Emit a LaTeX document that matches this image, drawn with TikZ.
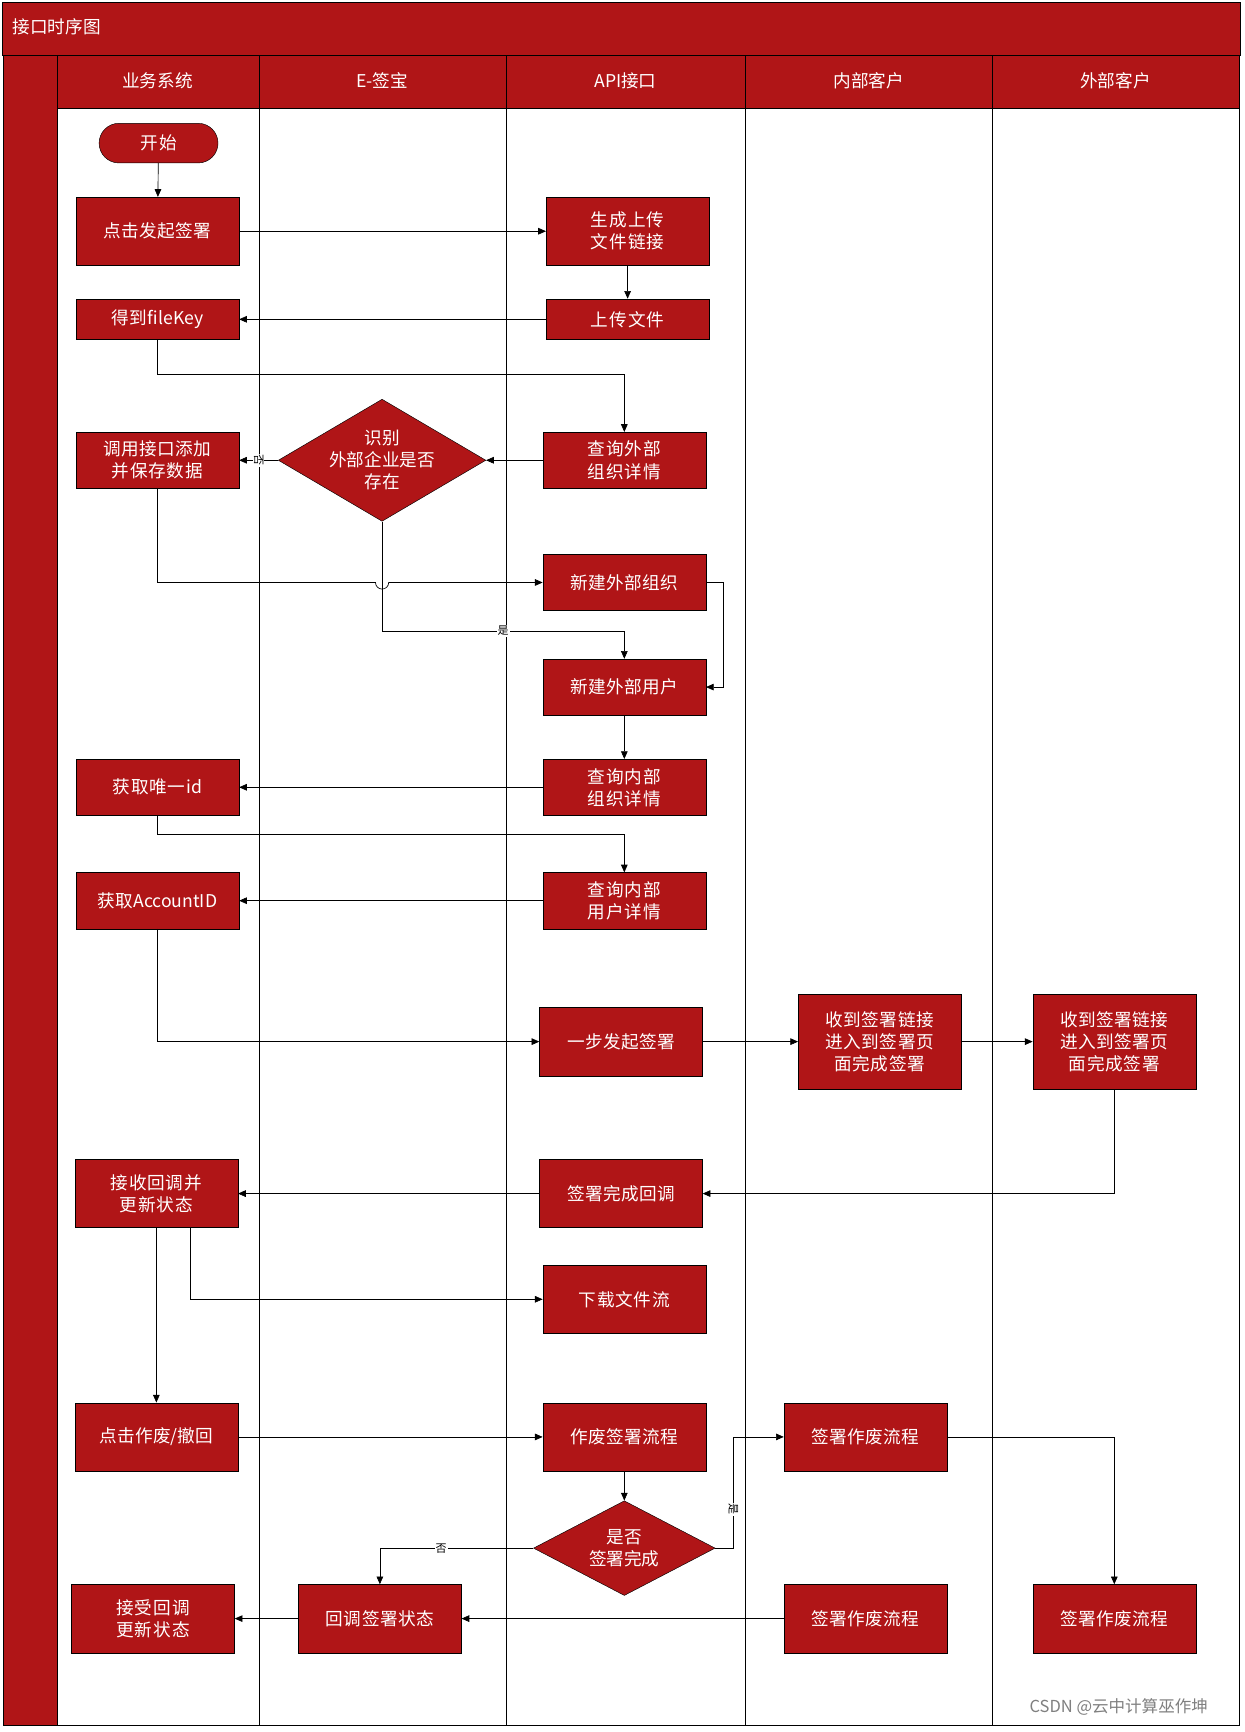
\documentclass[tikz,border=0pt]{standalone}
\usepackage{fontspec}
\newfontfamily\cjk{Noto Sans CJK SC}
\XeTeXlinebreaklocale "zh"
\XeTeXlinebreakskip=0pt plus 1pt
\usetikzlibrary{shapes.geometric,arrows.meta}
\definecolor{rd}{HTML}{B01517}
\tikzset{
 box/.style={draw=black,fill=rd,text=white,minimum width=148pt,minimum height=62pt,inner sep=1pt,align=center,text width=124pt,font=\cjk\fontsize{16}{20}\selectfont},
 dia/.style={draw=black,fill=rd,text=white,diamond,aspect=1.7,inner sep=0pt,minimum width=165pt,minimum height=96pt,align=center,font=\cjk\fontsize{16}{20}\selectfont},
 arr/.style={-{Triangle[length=7pt,width=6pt]},black,line width=0.6pt},
 lbl/.style={fill=white,inner sep=1pt,font=\cjk\fontsize{10}{11}\selectfont},
 hdr/.style={text=white,font=\cjk\fontsize{16}{19}\selectfont}
}
\begin{document}
\begin{tikzpicture}[x=1pt,y=-1pt]
\useasboundingbox (0,0) rectangle (1130,1573);
\fill[white] (0,0) rectangle (1130,1573);
% frame
\fill[rd,draw=black] (2,2) rectangle (1126,50);
\node[hdr,anchor=west] (title) at (8,24) {接口时序图};
\fill[rd,draw=black] (3,50) rectangle (52,1567);
\fill[rd,draw=black] (52,50) rectangle (1125,98);
\draw[black] (52,98) rectangle (1125,1567);
\foreach \x in {235,460,677,901} \draw (\x,50) -- (\x,1567);
\node[hdr] (h1) at (143,73) {业务系统};
\node[hdr] (h2) at (347,73) {E-签宝};
\node[hdr] (h3) at (568,73) {API接口};
\node[hdr] (h4) at (789,73) {内部客户};
\node[hdr] (h5) at (1013,73) {外部客户};
% nodes
\node[box,rounded corners=18pt,minimum width=108pt,minimum height=36pt,text width=90pt] (st) at (144,130) {开始};
\node[box] (n1) at (143,210) {点击发起签署};
\node[box] (n2) at (570,210) {生成上传文件链接};
\node[box,minimum height=37pt] (n3) at (570,290) {上传文件};
\node[box,minimum height=37pt] (n4) at (143,290) {得到fileKey};
\node[box,minimum height=51pt] (n5) at (143,418) {调用接口添加并保存数据};
\node[dia] (d1) at (347,418) {识别\\外部企业是否\\存在};
\node[box,minimum height=51pt] (n6) at (567,418) {查询外部组织详情};
\node[box,minimum height=51pt] (n7) at (567,529) {新建外部组织};
\node[box,minimum height=51pt] (n8) at (567,624) {新建外部用户};
\node[box,minimum height=51pt] (n9) at (567,715) {查询内部组织详情};
\node[box,minimum height=51pt] (n10) at (143,715) {获取唯一id};
\node[box,minimum height=51pt] (n11) at (567,818) {查询内部用户详情};
\node[box,minimum height=51pt] (n12) at (143,818) {获取AccountID};
\node[box] (n13) at (564,946) {一步发起签署};
\node[box,minimum height=86pt] (n14) at (799,946) {收到签署链接进入到签署页面完成签署};
\node[box,minimum height=86pt] (n15) at (1012,946) {收到签署链接进入到签署页面完成签署};
\node[box] (n16) at (564,1084) {签署完成回调};
\node[box] (n17) at (142,1084) {接收回调并更新状态};
\node[box] (n18) at (567,1180) {下载文件流};
\node[box] (n19) at (142,1305) {点击作废/撤回};
\node[box] (n20) at (567,1305) {作废签署流程};
\node[box] (n21) at (786,1305) {签署作废流程};
\node[dia,minimum height=86pt] (d2) at (567,1406) {是否\\签署完成};
\node[box] (n22) at (345,1470) {回调签署状态};
\node[box] (n23) at (139,1470) {接受回调更新状态};
\node[box] (n24) at (786,1470) {签署作废流程};
\node[box] (n25) at (1012,1470) {签署作废流程};
% edges
\draw[arr] (st) -- (n1);
\draw[arr] (n1) -- (n2);
\draw[arr] (n2) -- (n3);
\draw[arr] (n3) -- (n4);
\draw[arr] (n4.south) |- (567,340) -- (n6.north);
\draw[arr] (n6) -- (d1);
\draw[arr] (d1) -- node[lbl,rotate=-90] {否} (n5);
\draw[arr] (n5.south) |- (341,529) arc[start angle=180,end angle=0,radius=6] -- (n7.west);
\draw[arr] (d1.south) |- node[lbl,pos=0.75] {是} (567,573) -- (n8.north);
\draw[arr] (n7.east) -- (657,529) |- (n8.east);
\draw[arr] (n8) -- (n9);
\draw[arr] (n9) -- (n10);
\draw[arr] (n10.south) |- (567,758) -- (n11.north);
\draw[arr] (n11) -- (n12);
\draw[arr] (n12.south) |- (n13.west);
\draw[arr] (n13) -- (n14);
\draw[arr] (n14) -- (n15);
\draw[arr] (n15.south) |- (n16.east);
\draw[arr] (n16) -- (n17);
\draw[arr] (n17) -- (n19);
\draw[arr] (173,1115) |- (n18.west);
\draw[arr] (n19) -- (n20);
\draw[arr] (n20) -- (d2);
\draw[arr] (d2.east) -- (666,1406) -- node[lbl,rotate=-90,pos=0.35] {是} (666,1305) -- (n21.west);
\draw[arr] (d2.west) -- node[lbl,pos=0.6] {否} (345,1406) -- (n22.north);
\draw[arr] (n21.east) -- (1012,1305) -- (n25.north);
\draw[arr] (n24) -- (n22);
\draw[arr] (n22) -- (n23);
\node[text=gray,font=\cjk\fontsize{15}{17}\selectfont] (wm) at (1016,1550) {CSDN @云中计算巫作坤};
\end{tikzpicture}
\end{document}
